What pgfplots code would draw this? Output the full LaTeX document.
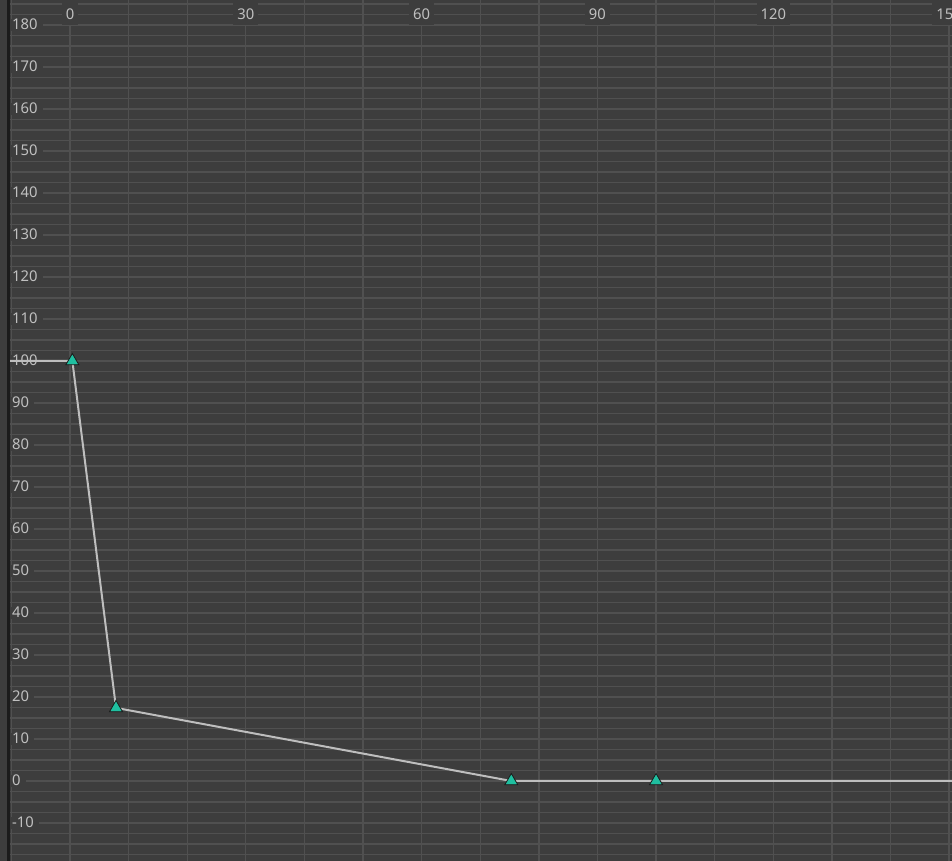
\documentclass[border=0pt]{standalone}
\usepackage{fontspec}
\setmainfont{Noto Sans}
\usepackage{pgfplots}
\pgfplotsset{compat=1.18}
\definecolor{bg}{HTML}{3D3D3D}
\definecolor{gridc}{HTML}{505050}
\definecolor{lbl}{HTML}{C0C0C0}
\definecolor{curve}{HTML}{BEBEBE}
\definecolor{key}{HTML}{1FBFA0}
\definecolor{edge}{HTML}{1B1B1B}
\begin{document}%
\fontsize{14.8pt}{17pt}\selectfont%
\begin{tikzpicture}
\fill[bg] (0,0) rectangle (7pt,861pt);
\fill[edge] (7pt,0) rectangle (10pt,861pt);
\begin{axis}[
    at={(10pt,0pt)}, anchor=south west,
    scale only axis, width=942pt, height=861pt,
    set layers=standard,
    xmin=-10.24, xmax=150.5, ymin=-19.05, ymax=185.95,
    axis background/.style={fill=bg},
    axis line style={draw=none},
    major tick length=0pt, minor tick length=0pt,
    xtick={0,30,...,150},
    minor xtick={-10,10,20,40,50,70,80,100,110,130,140},
    ytick={-10,0,...,180},
    minor ytick={-17.5,-15,...,185},
    grid=both,
    grid style={draw=gridc, line width=1.3pt},
    major grid style={draw=gridc, line width=1.3pt},
    /pgf/number format/assume math mode=true,
    xticklabel pos=upper,
    xticklabel style={anchor=north, inner sep=0pt, fill=bg, text=lbl,
        text height=19pt, text depth=6pt},
    xticklabel={\hspace*{4pt}\pgfmathprintnumber{\tick}\hspace*{4pt}},
    yticklabel style={anchor=west, inner sep=0pt, fill=bg, text=lbl,
        text height=11pt, text depth=1pt},
    yticklabel={\hspace*{2pt}\pgfmathprintnumber{\tick}\hspace*{5pt}},
]
% curve with its keys; the first and last points carry it to the edges
\addplot[curve, line width=2pt, mark=triangle*, mark size=7.5pt,
    mark options={fill=key, draw=edge, line width=0.8pt},
    mark indices={1,2,3,4}]
    coordinates {(-12,100)(0.4,100)(7.85,17.4)(75.3,0)(100,0)(160,0)};
\end{axis}
\pgfresetboundingbox
\useasboundingbox (0,0) rectangle (952pt,861pt);
\end{tikzpicture}%
\end{document}
